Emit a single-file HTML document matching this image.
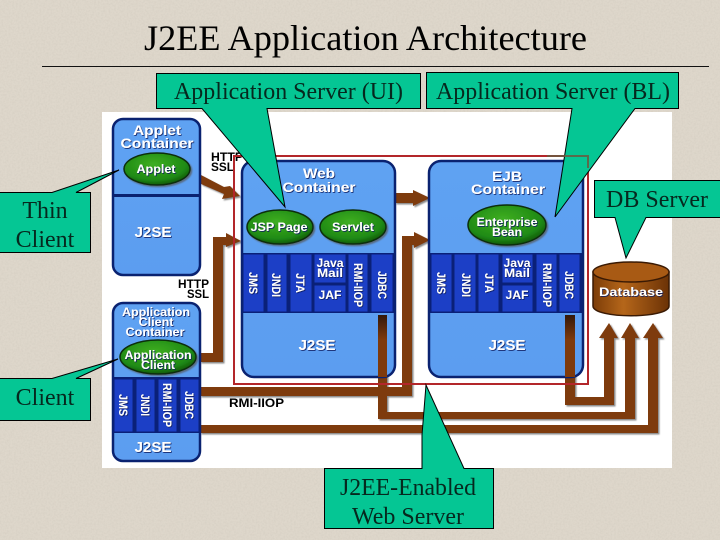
<!DOCTYPE html>
<html><head><meta charset="utf-8"><style>
html,body{margin:0;padding:0;background:#ded7cb}
svg{display:block}
.s{font-family:"Liberation Serif",serif;fill:#06281e;font-size:24px;text-anchor:middle}
.w{font-family:"Liberation Sans",sans-serif;font-weight:bold;fill:#fff;text-anchor:middle;font-size:11.500px}
.k{font-family:"Liberation Sans",sans-serif;font-weight:bold;fill:#000;font-size:11.500px}
.c{fill:url(#blue);stroke:#0a2270;stroke-width:2.500}
.a{fill:#1c3fc6;stroke:#0a2078;stroke-width:1}
.t{fill:#05c694;stroke:#000;stroke-width:1}
.e{fill:url(#gr);stroke:#082e08;stroke-width:1.500;filter:url(#sh)}
</style></head><body>
<svg width="720" height="540" viewBox="0 0 720 540" xmlns="http://www.w3.org/2000/svg">
<defs>
<linearGradient id="blue" x1="0" y1="0" x2="0" y2="1"><stop offset="0" stop-color="#5fa2f2"/><stop offset="1" stop-color="#5c9df0"/></linearGradient>
<radialGradient id="gr" cx="45%" cy="35%" r="70%"><stop offset="0" stop-color="#3fae22"/><stop offset=".7" stop-color="#1f8a14"/><stop offset="1" stop-color="#0b4a0a"/></radialGradient>
<linearGradient id="db" x1="0" y1="0" x2="1" y2="0"><stop offset="0" stop-color="#7c3d08"/><stop offset=".4" stop-color="#b5661a"/><stop offset="1" stop-color="#6b3206"/></linearGradient>
<linearGradient id="pipe" x1="0" y1="0" x2="0" y2="1"><stop offset="0" stop-color="#33180a"/><stop offset=".4" stop-color="#7e3a0c"/></linearGradient>
<filter id="noise" x="0" y="0" width="100%" height="100%"><feTurbulence type="fractalNoise" baseFrequency="0.55" numOctaves="3" seed="4"/><feColorMatrix type="matrix" values="0 0 0 0 0.45  0 0 0 0 0.42  0 0 0 0 0.36  0 0 0 0.9 -0.32"/></filter>
<filter id="sh" x="-10%" y="-10%" width="120%" height="120%"><feDropShadow dx="1.500" dy="1.500" stdDeviation="0.8" flood-color="#555" flood-opacity=".7"/></filter>
<filter id="ts" x="-10%" y="-10%" width="120%" height="120%"><feDropShadow dx="0.8" dy="0.8" stdDeviation="0.3" flood-color="#0a1e60" flood-opacity="1"/></filter>
</defs>
<rect width="720" height="540" fill="#ded7cb"/>
<rect width="720" height="540" filter="url(#noise)" opacity=".35"/>

<text x="365.500" y="50" font-family="Liberation Serif,serif" font-size="36" text-anchor="middle" fill="#000" textLength="443" lengthAdjust="spacingAndGlyphs">J2EE Application Architecture</text>
<rect x="42" y="66" width="667" height="1" fill="#111"/>

<!-- white image -->
<rect x="102" y="112" width="570" height="356" fill="#fff"/>

<!-- pipes -->
<g fill="#7e3a0c" filter="url(#sh)">
<path d="M201 175 L224 187 L230 186 L240 196 L222 199 L224 194 L201 184Z"/>
<path d="M200 353 H213 V237 H226 V233 L241 241 L226 247 V245 H223 V362 H200Z"/>
<path d="M395 193 H413 V190 L430 198 L413 206 V203 H395Z"/>
<path d="M200 387 H402 V236 H414 V232 L430 240 L414 248 V245 H412 V396 H200Z"/>
<path d="M378 315 H387 V412 H625 V338 H621 L630 323 L639 338 H635 V419 H378Z"/>
<path d="M200 425 H648 V338 H643 L653 323 L663 338 H658 V433 H200Z"/>
<path d="M565 315 H575 V397 H604 V338 H599 L609 323 L618 338 H614 V405 H565Z"/>
</g>

<!-- Applet container -->
<rect class="c" x="113" y="119" width="87" height="156" rx="10"/>
<rect x="113" y="194" width="87" height="3" fill="#0a2270"/>
<g filter="url(#ts)">
<text class="w" x="157" y="135" textLength="48" lengthAdjust="spacingAndGlyphs" style="font-size:14px">Applet</text>
<text class="w" x="157" y="148" style="font-size:14px" textLength="73" lengthAdjust="spacingAndGlyphs">Container</text>
<text class="w" x="153" y="237" style="font-size:15px" textLength="37" lengthAdjust="spacingAndGlyphs">J2SE</text>
</g>
<ellipse class="e" cx="157" cy="169" rx="33" ry="16"/>
<text class="w" x="156" y="173" filter="url(#ts)" textLength="39" lengthAdjust="spacingAndGlyphs" style="font-size:12px">Applet</text>

<text class="k" x="211" y="161" textLength="32" lengthAdjust="spacingAndGlyphs">HTTP</text>
<text class="k" x="211" y="171" textLength="23" lengthAdjust="spacingAndGlyphs">SSL</text>
<text class="k" x="178" y="288" textLength="31" lengthAdjust="spacingAndGlyphs">HTTP</text>
<text class="k" x="187" y="298" textLength="22" lengthAdjust="spacingAndGlyphs">SSL</text>
<text class="k" x="229" y="407" textLength="55" lengthAdjust="spacingAndGlyphs">RMI-IIOP</text>

<!-- Client container -->
<rect class="c" x="113" y="303" width="87" height="158" rx="10"/>
<rect x="113" y="377" width="87" height="56" fill="#0a2078"/>
<rect class="a" x="114" y="379" width="19" height="53"/>
<rect class="a" x="136" y="379" width="19" height="53"/>
<rect class="a" x="158" y="379" width="19" height="53"/>
<rect class="a" x="180" y="379" width="19" height="53"/>
<g filter="url(#ts)">
<text class="w" x="156" y="316" textLength="68" lengthAdjust="spacingAndGlyphs">Application</text>
<text class="w" x="156" y="326" textLength="35" lengthAdjust="spacingAndGlyphs">Client</text>
<text class="w" x="155" y="336" textLength="59" lengthAdjust="spacingAndGlyphs">Container</text>
<text class="w" x="153" y="452" style="font-size:15px" textLength="37" lengthAdjust="spacingAndGlyphs">J2SE</text>
<text class="w" transform="translate(119 405) rotate(90)" textLength="22" lengthAdjust="spacingAndGlyphs">JMS</text>
<text class="w" transform="translate(141 405) rotate(90)" textLength="22" lengthAdjust="spacingAndGlyphs">JNDI</text>
<text class="w" transform="translate(163 405) rotate(90)" textLength="44" lengthAdjust="spacingAndGlyphs">RMI-IIOP</text>
<text class="w" transform="translate(185 405) rotate(90)" textLength="28" lengthAdjust="spacingAndGlyphs">JDBC</text>
</g>
<ellipse class="e" cx="158" cy="357" rx="38" ry="17"/>
<g filter="url(#ts)">
<text class="w" x="158" y="359" textLength="67" lengthAdjust="spacingAndGlyphs">Application</text>
<text class="w" x="158" y="369" textLength="34" lengthAdjust="spacingAndGlyphs">Client</text>
</g>

<!-- Web container -->
<rect class="c" x="242" y="161" width="153" height="216" rx="12"/>
<rect x="243" y="253" width="151" height="60" fill="#0a2078"/>
<rect class="a" x="243" y="254" width="21" height="58"/>
<rect class="a" x="267" y="254" width="20" height="58"/>
<rect class="a" x="290" y="254" width="22" height="58"/>
<rect class="a" x="314" y="254" width="32" height="29"/>
<rect class="a" x="314" y="285" width="32" height="27"/>
<rect class="a" x="348" y="254" width="20" height="58"/>
<rect class="a" x="371" y="254" width="22" height="58"/>
<ellipse class="e" cx="280" cy="227" rx="33" ry="17"/>
<ellipse class="e" cx="353" cy="227" rx="33" ry="17"/>
<g filter="url(#ts)">
<text class="w" x="319" y="178" style="font-size:14px" textLength="32" lengthAdjust="spacingAndGlyphs">Web</text>
<text class="w" x="319" y="192" style="font-size:14px" textLength="73" lengthAdjust="spacingAndGlyphs">Container</text>
<text class="w" x="279" y="231" textLength="57" lengthAdjust="spacingAndGlyphs">JSP Page</text>
<text class="w" x="353" y="231" textLength="42" lengthAdjust="spacingAndGlyphs">Servlet</text>
<text class="w" transform="translate(249 283) rotate(90)" textLength="22" lengthAdjust="spacingAndGlyphs">JMS</text>
<text class="w" transform="translate(272 285) rotate(90)" textLength="24" lengthAdjust="spacingAndGlyphs">JNDI</text>
<text class="w" transform="translate(296 283) rotate(90)" textLength="20" lengthAdjust="spacingAndGlyphs">JTA</text>
<text class="w" x="330" y="267" textLength="27" lengthAdjust="spacingAndGlyphs">Java</text>
<text class="w" x="330" y="277" textLength="26" lengthAdjust="spacingAndGlyphs">Mail</text>
<text class="w" x="330" y="299" textLength="23" lengthAdjust="spacingAndGlyphs">JAF</text>
<text class="w" transform="translate(354 285) rotate(90)" textLength="44" lengthAdjust="spacingAndGlyphs">RMI-IIOP</text>
<text class="w" transform="translate(378 285) rotate(90)" textLength="28" lengthAdjust="spacingAndGlyphs">JDBC</text>
<text class="w" x="317" y="350" style="font-size:15px" textLength="37" lengthAdjust="spacingAndGlyphs">J2SE</text>
</g>

<!-- EJB container -->
<rect class="c" x="429" y="161" width="154" height="216" rx="12"/>
<rect x="430" y="253" width="152" height="60" fill="#0a2078"/>
<rect class="a" x="431" y="254" width="21" height="58"/>
<rect class="a" x="454" y="254" width="22" height="58"/>
<rect class="a" x="478" y="254" width="21" height="58"/>
<rect class="a" x="502" y="254" width="31" height="29"/>
<rect class="a" x="502" y="285" width="31" height="27"/>
<rect class="a" x="536" y="254" width="21" height="58"/>
<rect class="a" x="559" y="254" width="21" height="58"/>
<ellipse class="e" cx="507" cy="225" rx="39" ry="20"/>
<g filter="url(#ts)">
<text class="w" x="507" y="181" style="font-size:14px" textLength="30" lengthAdjust="spacingAndGlyphs">EJB</text>
<text class="w" x="508" y="194" style="font-size:14px" textLength="74" lengthAdjust="spacingAndGlyphs">Container</text>
<text class="w" x="507" y="226" textLength="61" lengthAdjust="spacingAndGlyphs">Enterprise</text>
<text class="w" x="507" y="236" textLength="30" lengthAdjust="spacingAndGlyphs">Bean</text>
<text class="w" transform="translate(437 283) rotate(90)" textLength="22" lengthAdjust="spacingAndGlyphs">JMS</text>
<text class="w" transform="translate(462 285) rotate(90)" textLength="24" lengthAdjust="spacingAndGlyphs">JNDI</text>
<text class="w" transform="translate(485 283) rotate(90)" textLength="20" lengthAdjust="spacingAndGlyphs">JTA</text>
<text class="w" x="517" y="267" textLength="27" lengthAdjust="spacingAndGlyphs">Java</text>
<text class="w" x="517" y="277" textLength="26" lengthAdjust="spacingAndGlyphs">Mail</text>
<text class="w" x="517" y="299" textLength="23" lengthAdjust="spacingAndGlyphs">JAF</text>
<text class="w" transform="translate(543 285) rotate(90)" textLength="44" lengthAdjust="spacingAndGlyphs">RMI-IIOP</text>
<text class="w" transform="translate(565 285) rotate(90)" textLength="28" lengthAdjust="spacingAndGlyphs">JDBC</text>
<text class="w" x="507" y="350" style="font-size:15px" textLength="37" lengthAdjust="spacingAndGlyphs">J2SE</text>
</g>

<!-- pipe starts over containers -->
<rect x="378" y="315" width="9" height="62" fill="url(#pipe)"/>
<rect x="565" y="315" width="10" height="62" fill="url(#pipe)"/>

<!-- Database -->
<path d="M593 272 V306 C593 319 669 319 669 306 V272Z" fill="url(#db)" stroke="#3a1a04" stroke-width="1.500"/>
<ellipse cx="631" cy="272" rx="38" ry="10" fill="#a85a14" stroke="#3a1a04" stroke-width="1.500"/>
<text class="w" x="631" y="296" filter="url(#ts)" textLength="64" lengthAdjust="spacingAndGlyphs">Database</text>

<!-- red box -->
<rect x="234" y="156" width="354" height="228" fill="none" stroke="#b3262a" stroke-width="2"/>

<!-- callouts -->
<path class="t" d="M156.500 73.500 H420.500 V108.500 H267 L285 207 L202 108.500 H156.500Z"/>
<path class="t" d="M426.500 72.500 H678.500 V108.500 H635 L555 217 L572 108.500 H426.500Z"/>
<path d="M547 156 H588 V168" fill="none" stroke="#6a5a40" stroke-width="2" opacity=".85"/>
<path class="t" d="M594.500 180.500 H721 V217.500 H646 L626 258 L615 217.500 H594.500Z"/>
<path class="t" d="M-1 192.500 H52 L119 170 L76 192.500 H90.500 V252.500 H-1Z"/>
<path class="t" d="M-1 378.500 H52 L118 359 L76 378.500 H90.500 V420.500 H-1Z"/>
<path class="t" d="M324.500 468.500 H422 V435 L426 385 L464 468.500 H493.500 V528.500 H324.500Z"/>

<text class="s" x="288.500" y="99" textLength="229" lengthAdjust="spacingAndGlyphs">Application Server (UI)</text>
<text class="s" x="553" y="99" textLength="234" lengthAdjust="spacingAndGlyphs">Application Server (BL)</text>
<text class="s" x="657" y="207" textLength="102" lengthAdjust="spacingAndGlyphs">DB Server</text>
<text class="s" x="45" y="218">Thin</text>
<text class="s" x="45" y="247">Client</text>
<text class="s" x="45" y="405">Client</text>
<text class="s" x="408" y="495" textLength="136" lengthAdjust="spacingAndGlyphs">J2EE-Enabled</text>
<text class="s" x="408" y="524" textLength="112" lengthAdjust="spacingAndGlyphs">Web Server</text>
</svg>
</body></html>
